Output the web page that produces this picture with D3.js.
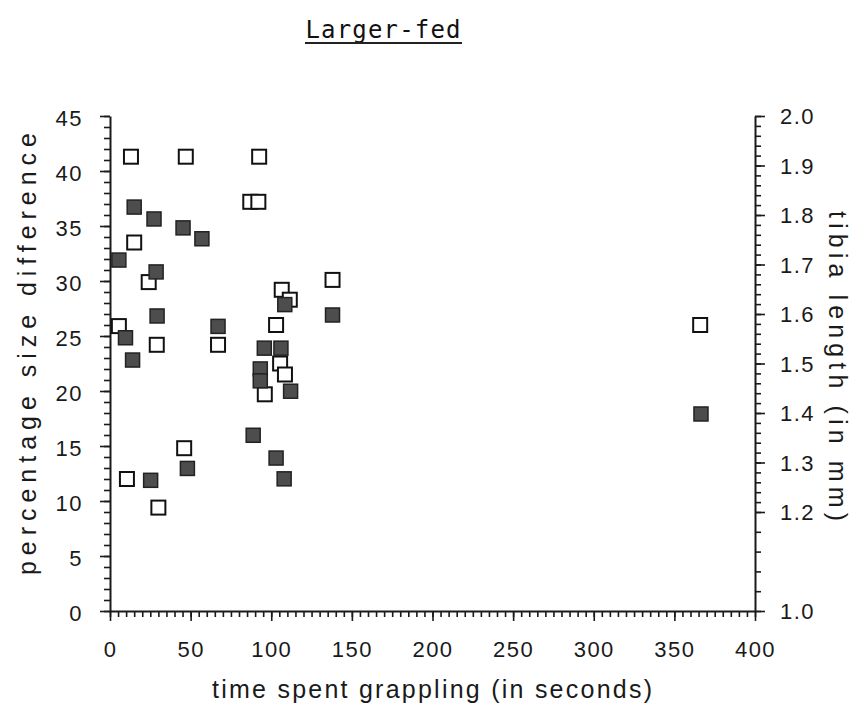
<!DOCTYPE html>
<html>
<head>
<meta charset="utf-8">
<script src="https://cdn.jsdelivr.net/npm/d3@7"></script>
<style>
  html, body { margin: 0; padding: 0; background: #fff; }
  svg { display: block; }
  .tick text { font-family: "Liberation Sans", Arial, sans-serif; font-size: 22px; letter-spacing: 1.5px; fill: #1a1a1a; }
  .axis path, .axis line { stroke: #1a1a1a; }
  .axis line { stroke-width: 1.6; }
</style>
</head>
<body>
<svg id="chart"></svg>
<script>
// open squares: percentage size difference (left axis)
const openTime = [13, 47, 92.5, 87, 92, 15, 24, 5.5, 29, 67, 103, 106.5, 111.5, 138, 105.5, 108.5, 96, 46, 10.5, 30, 366];
const openPct  = [41.3, 41.3, 41.3, 37.2, 37.2, 33.5, 29.9, 25.9, 24.2, 24.2, 26.0, 29.2, 28.3, 30.1, 22.5, 21.5, 19.7, 14.8, 12.0, 9.4, 26.0];

// filled squares: tibia length in mm (right axis)
const filledTime  = [5.5, 15, 27.3, 45.3, 57, 28.6, 29.2, 9.6, 14, 67, 108.4, 138, 95.7, 106, 93.2, 93.2, 112, 88.8, 103, 108, 48, 25.2, 366.5];
const filledTibia = [1.709, 1.816, 1.792, 1.774, 1.752, 1.685, 1.596, 1.552, 1.507, 1.575, 1.619, 1.598, 1.531, 1.531, 1.489, 1.465, 1.444, 1.355, 1.309, 1.267, 1.288, 1.264, 1.398];

const timeTicks  = [0, 50, 100, 150, 200, 250, 300, 350, 400];
const pctTicks   = [0, 5, 10, 15, 20, 25, 30, 35, 40, 45];
const tibiaTicks = [1.0, 1.2, 1.3, 1.4, 1.5, 1.6, 1.7, 1.8, 1.9, 2.0];

const W = 858, H = 718;
const plot = { left: 110, right: 755, top: 116, bottom: 611 };

const svg = d3.select("#chart").attr("width", W).attr("height", H);

const x  = d3.scaleLinear().domain([0, 400]).range([plot.left, plot.right]);
const yL = d3.scaleLinear().domain([0, 45]).range([plot.bottom, plot.top]);
const yR = d3.scaleLinear().domain([1, 2]).range([plot.bottom, plot.top]);

// minor ticks first, then major ticks with labels
svg.append("g").attr("class", "axis")
   .attr("transform", `translate(${plot.left},0)`)
   .call(d3.axisLeft(yL).tickValues(d3.range(0, 46, 1)).tickSize(6).tickFormat(""))
   .call(g => g.select(".domain").remove());
svg.append("g").attr("class", "axis")
   .attr("transform", `translate(${plot.left},0)`)
   .call(d3.axisLeft(yL).tickValues(pctTicks).tickSize(10).tickSizeOuter(0).tickPadding(17))
   .call(g => g.select(".domain").attr("stroke-width", 2))
   .call(g => g.selectAll(".tick text").attr("dy", "0.45em"));

svg.append("g").attr("class", "axis")
   .attr("transform", `translate(0,${plot.bottom})`)
   .call(d3.axisBottom(x).tickValues(d3.range(0, 401, 5)).tickSize(6).tickFormat(""))
   .call(g => g.select(".domain").remove());
svg.append("g").attr("class", "axis")
   .attr("transform", `translate(0,${plot.bottom})`)
   .call(d3.axisBottom(x).tickValues(timeTicks).tickSize(10).tickSizeOuter(0).tickPadding(20))
   .call(g => g.select(".domain").attr("stroke-width", 2));

const tibiaMinor = d3.range(100, 120, 4).concat(d3.range(120, 201, 2)).map(d => d / 100);
svg.append("g").attr("class", "axis")
   .attr("transform", `translate(${plot.right},0)`)
   .call(d3.axisRight(yR).tickValues(tibiaMinor).tickSize(6).tickFormat(""))
   .call(g => g.select(".domain").remove());
svg.append("g").attr("class", "axis")
   .attr("transform", `translate(${plot.right},0)`)
   .call(d3.axisRight(yR).tickValues(tibiaTicks).tickSize(10).tickSizeOuter(0).tickPadding(15).tickFormat(d3.format(".1f")))
   .call(g => g.select(".domain").attr("stroke-width", 2))
   .call(g => g.selectAll(".tick text").attr("dy", "0.35em"));

// squares
const s = 14;
svg.append("g").selectAll("rect")
   .data(d3.zip(openTime, openPct))
   .join("rect")
   .attr("x", d => x(d[0]) - s / 2)
   .attr("y", d => yL(d[1]) - s / 2)
   .attr("width", s).attr("height", s)
   .attr("fill", "#fff")
   .attr("stroke", "#111")
   .attr("stroke-width", 2);

svg.append("g").selectAll("rect")
   .data(d3.zip(filledTime, filledTibia))
   .join("rect")
   .attr("x", d => x(d[0]) - s / 2)
   .attr("y", d => yR(d[1]) - s / 2)
   .attr("width", s).attr("height", s)
   .attr("fill", "#4d4d4d")
   .attr("stroke", "#222")
   .attr("stroke-width", 1.5);

// title and axis labels
svg.append("text")
   .attr("x", 383).attr("y", 38)
   .attr("text-anchor", "middle")
   .attr("font-family", "'DejaVu Sans Mono', monospace")
   .attr("font-size", 24)
   .attr("textLength", 155)
   .attr("fill", "#111")
   .text("Larger-fed");
svg.append("line")
   .attr("x1", 305).attr("x2", 462).attr("y1", 43).attr("y2", 43)
   .attr("stroke", "#222").attr("stroke-width", 2);

svg.append("text")
   .attr("x", 432).attr("y", 698)
   .attr("text-anchor", "middle")
   .attr("font-family", "'Liberation Sans', Arial, sans-serif")
   .attr("font-size", 25)
   .attr("textLength", 440)
   .attr("fill", "#1a1a1a")
   .text("time spent grappling (in seconds)");

svg.append("text")
   .attr("transform", "translate(36,354) rotate(-90)")
   .attr("text-anchor", "middle")
   .attr("font-family", "'Liberation Sans', Arial, sans-serif")
   .attr("font-size", 25)
   .attr("textLength", 442)
   .attr("fill", "#1a1a1a")
   .text("percentage size difference");

svg.append("text")
   .attr("transform", "translate(829,366) rotate(90)")
   .attr("text-anchor", "middle")
   .attr("font-family", "'Liberation Sans', Arial, sans-serif")
   .attr("font-size", 25)
   .attr("textLength", 310)
   .attr("fill", "#1a1a1a")
   .text("tibia length (in mm)");
</script>
</body>
</html>
